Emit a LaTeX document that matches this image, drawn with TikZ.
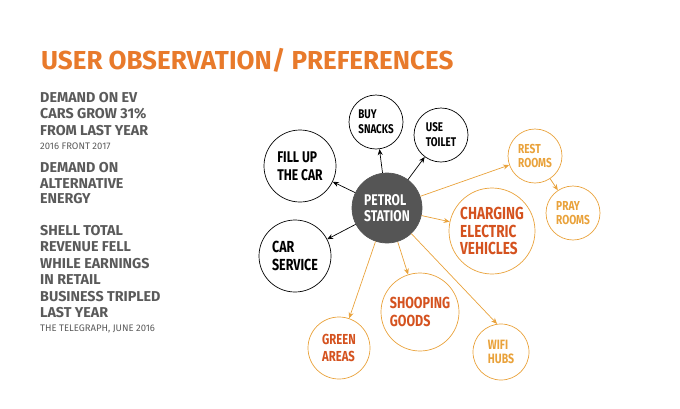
\documentclass[tikz,border=0pt]{standalone}
\usepackage{fontspec}
\setmainfont{Fira Sans}
\newfontfamily\condfont{Fira Sans}[FakeStretch=0.78]
\usetikzlibrary{arrows.meta}

\definecolor{titleorange}{HTML}{E87A2B}
\definecolor{textgray}{HTML}{5A5A5A}
\definecolor{stationgray}{HTML}{555555}
\definecolor{gold}{HTML}{E9A23B}
\definecolor{rust}{HTML}{D4521F}

\newcommand{\bsize}[2]{\condfont\bfseries\fontsize{#1}{#2}\selectfont}

\tikzset{
  bubble/.style={circle, draw=black, line width=0.7pt, inner sep=0pt, align=left},
  goldbubble/.style={bubble, draw=gold},
  fact/.style={anchor=north west, inner sep=0pt, align=left, text=textgray},
  blackarrow/.style={-{Stealth[length=6pt,width=5pt]}, line width=0.7pt},
  goldarrow/.style={blackarrow, draw=gold},
}

\begin{document}
\begin{tikzpicture}[x=1pt,y=-1pt]
\useasboundingbox (0,0) rectangle (680,408);

% heading and notes on the left
\node[anchor=base west, inner sep=0pt, text=titleorange,
  font=\bfseries\fontsize{26}{26}\selectfont] (title) at (41,69.5) {USER OBSERVATION/ PREFERENCES};

\node[fact, font=\bfseries\fontsize{14.3}{16.5}\selectfont] (evcars) at (40,92)
  {DEMAND ON EV\\CARS GROW 31\%\\FROM LAST YEAR};
\node[fact, font=\fontsize{9.5}{10}\selectfont] (evsource) at (40,142.5) {2016 FRONT 2017};
\node[fact, font=\bfseries\fontsize{14.3}{15.7}\selectfont] (energy) at (40,162)
  {DEMAND ON\\ALTERNATIVE\\ENERGY};
\node[fact, font=\bfseries\fontsize{14.3}{16.5}\selectfont] (shell) at (40,225)
  {SHELL TOTAL\\REVENUE FELL\\WHILE EARNINGS\\IN RETAIL\\BUSINESS TRIPLED\\LAST YEAR};
\node[fact, font=\fontsize{9.5}{10}\selectfont] (shellsource) at (40,324.5) {THE TELEGRAPH, JUNE 2016};

% the petrol station and what people do there
\node[bubble, draw=stationgray, fill=stationgray, text=white, minimum size=70pt,
  font=\bsize{15.5}{16.7}] (station) at (387,208) {PETROL\\STATION};

\node[bubble, minimum size=72pt, font=\bsize{15.5}{17.6}] (fillup) at (300,166) {FILL UP\\THE CAR};
\node[bubble, minimum size=54pt, font=\bsize{12.6}{15}] (snacks) at (376,122) {BUY\\SNACKS};
\node[bubble, minimum size=54pt, font=\bsize{12.6}{15}] (toilet) at (441,135) {USE\\TOILET};
\node[bubble, minimum size=72pt, font=\bsize{16}{17.6}] (service) at (295,256) {CAR\\SERVICE};

% what they would like to find
\node[goldbubble, minimum size=54pt, text=gold, font=\bsize{13}{14.7}] (rest) at (535,156) {REST\\ROOMS};
\node[goldbubble, minimum size=54pt, text=gold, font=\bsize{13}{14.7}] (pray) at (573,213) {PRAY\\ROOMS};
\node[goldbubble, minimum size=86pt, text=rust, font=\bsize{17.4}{17.5}] (charging) at (492,231)
  {CHARGING\\ELECTRIC\\VEHICLES};
\node[goldbubble, minimum size=78pt, text=rust, font=\bsize{16}{17.6}] (shopping) at (420,312) {SHOOPING\\GOODS};
\node[goldbubble, minimum size=62pt, text=rust, font=\bsize{14.5}{17}] (green) at (339,348) {GREEN\\AREAS};
\node[goldbubble, minimum size=56pt, text=gold, font=\bsize{13.5}{14.5}] (wifi) at (501,352) {WIFI\\HUBS};

\draw[blackarrow] (station) -- (fillup);
\draw[blackarrow] (station) -- (snacks);
\draw[blackarrow] (station) -- (toilet);
\draw[blackarrow] (station) -- (service);

\draw[goldarrow] (station) -- (rest);
\draw[goldarrow] (rest) -- (pray);
\draw[goldarrow] (station) -- (charging);
\draw[goldarrow] (station) -- (shopping);
\draw[goldarrow] (station) -- (green);
\draw[goldarrow] (station) -- (wifi.98);
\end{tikzpicture}
\end{document}
